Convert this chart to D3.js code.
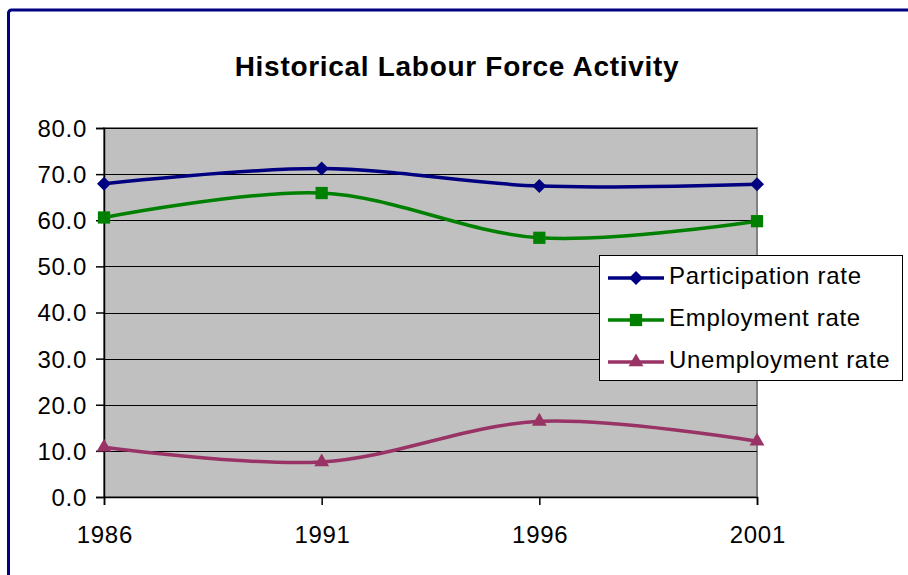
<!DOCTYPE html>
<html>
<head>
<meta charset="utf-8">
<script src="https://cdn.jsdelivr.net/npm/d3@7"></script>
<style>
  body { margin: 0; background: #fff; }
  text { font-family: "Liberation Sans", Arial, sans-serif; }
</style>
</head>
<body>
<div id="chart"></div>
<script>
const years = ['1986', '1991', '1996', '2001'];
const participation = [67.9, 71.2, 67.4, 67.8];
const employment = [60.6, 65.9, 56.2, 59.8];
const unemployment = [10.8, 7.6, 16.4, 12.1];
const yTicks = [0, 10, 20, 30, 40, 50, 60, 70, 80];

// diamond drawn as a square turned 45 degrees, like the spreadsheet marker
const diamond = {
    draw(context, size) {
        const r = Math.sqrt(size / 2);
        context.moveTo(0, -r);
        context.lineTo(r, 0);
        context.lineTo(0, r);
        context.lineTo(-r, 0);
        context.closePath();
    }
};

const series = [
    { name: 'Participation rate', values: participation, color: '#000080', marker: diamond, size: 98 },
    { name: 'Employment rate', values: employment, color: '#008000', marker: d3.symbolSquare, size: 150 },
    { name: 'Unemployment rate', values: unemployment, color: '#993366', marker: d3.symbolTriangle, size: 95 }
];

const width = 908, height = 575;
const plot = { left: 104, right: 757, top: 128, bottom: 497 };
const labelFont = 24, labelSpacing = 0.7;

const svg = d3.select('#chart').append('svg')
    .attr('width', width)
    .attr('height', height);

// chart frame
svg.append('rect')
    .attr('x', 8.5).attr('y', 10)
    .attr('width', 920).attr('height', 600)
    .attr('rx', 3)
    .attr('fill', 'none')
    .attr('stroke', '#000080')
    .attr('stroke-width', 3);

svg.append('text')
    .attr('x', 457).attr('y', 76)
    .attr('text-anchor', 'middle')
    .attr('font-size', 28)
    .attr('font-weight', 'bold')
    .attr('letter-spacing', 0.7)
    .text('Historical Labour Force Activity');

const x = d3.scalePoint().domain(years).range([plot.left, plot.right]);
const y = d3.scaleLinear().domain([0, 80]).range([plot.bottom, plot.top]);

svg.append('rect')
    .attr('x', plot.left).attr('y', plot.top)
    .attr('width', plot.right - plot.left).attr('height', plot.bottom - plot.top)
    .attr('fill', '#c0c0c0')
    .attr('stroke', '#808080')
    .attr('stroke-width', 2);

svg.append('g')
    .selectAll('line')
    .data(yTicks.filter(d => d > 0))
    .join('line')
    .attr('x1', plot.left).attr('x2', plot.right)
    .attr('y1', d => Math.round(y(d)) + 0.5).attr('y2', d => Math.round(y(d)) + 0.5)
    .attr('stroke', '#000')
    .attr('stroke-width', 1);

const yAxis = svg.append('g')
    .attr('transform', `translate(${plot.left},0)`)
    .call(d3.axisLeft(y).tickValues(yTicks).tickFormat(d3.format('.1f')).tickSize(8).tickPadding(9));

const xAxis = svg.append('g')
    .attr('transform', `translate(0,${plot.bottom})`)
    .call(d3.axisBottom(x).tickSize(8).tickPadding(21));

[yAxis, xAxis].forEach(g => {
    g.selectAll('path, line').attr('stroke', '#000').attr('stroke-width', 1.5);
    g.selectAll('text')
        .attr('font-size', labelFont)
        .attr('letter-spacing', labelSpacing)
        .attr('fill', '#000')
        .style('font-family', '"Liberation Sans", Arial, sans-serif');
});
yAxis.selectAll('text').attr('dy', '0.35em');
xAxis.selectAll('text').attr('dx', labelSpacing / 2);

const line = d3.line()
    .x((d, i) => x(years[i]))
    .y(d => y(d))
    .curve(d3.curveCardinal.tension(0));

series.forEach(s => {
    svg.append('path')
        .datum(s.values)
        .attr('d', line)
        .attr('fill', 'none')
        .attr('stroke', s.color)
        .attr('stroke-width', 3.5);

    svg.append('g')
        .selectAll('path')
        .data(s.values)
        .join('path')
        .attr('d', d3.symbol().type(s.marker).size(s.size))
        .attr('transform', (d, i) => `translate(${x(years[i])},${y(d)})`)
        .attr('fill', s.color);
});

// legend
const legend = svg.append('g').attr('transform', 'translate(599,255)');
legend.append('rect')
    .attr('x', 0.5).attr('y', 0.5)
    .attr('width', 303).attr('height', 125)
    .attr('fill', '#fff')
    .attr('stroke', '#000')
    .attr('stroke-width', 1);

const item = legend.selectAll('g.item')
    .data(series)
    .join('g')
    .attr('class', 'item')
    .attr('transform', (d, i) => `translate(0,${23 + i * 42})`);

item.append('line')
    .attr('x1', 9).attr('x2', 65)
    .attr('stroke', d => d.color)
    .attr('stroke-width', 3.5);

item.append('path')
    .attr('d', d => d3.symbol().type(d.marker).size(d.size)())
    .attr('transform', 'translate(37,0)')
    .attr('fill', d => d.color);

item.append('text')
    .attr('x', 70).attr('y', 6)
    .attr('font-size', labelFont)
    .attr('letter-spacing', labelSpacing)
    .text(d => d.name);
</script>
</body>
</html>
